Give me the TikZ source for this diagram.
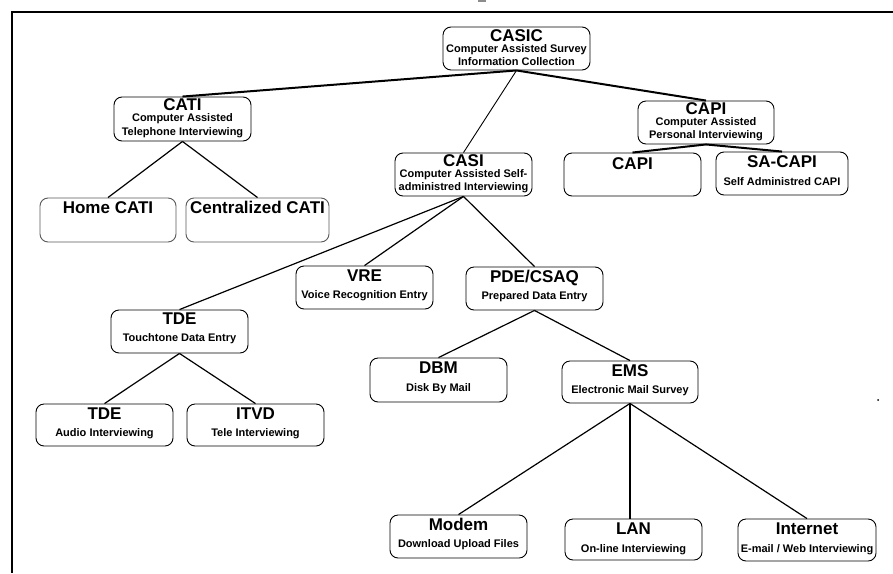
\documentclass[tikz,border=0pt]{standalone}
\usepackage{fontspec}
\setmainfont{Liberation Sans}
\begin{document}
\begin{tikzpicture}[x=1pt,y=-1pt,
  box/.style={draw=black,line width=0.9pt,rounded corners=8pt,fill=white,inner sep=0pt},
  softbox/.style={box,draw=black!65},
  ttl/.style={anchor=base,inner sep=0pt,font=\fontsize{17}{17}\selectfont\bfseries},
  sub/.style={anchor=base,inner sep=0pt,font=\fontsize{11}{11}\selectfont\bfseries},
  link/.style={line width=1.2pt},
  heavylink/.style={line width=2pt},
  thinlink/.style={line width=0.9pt},
  frame/.style={line width=1.8pt}]
\useasboundingbox (0,0) rectangle (893,573);

% outer frame, open to the right and bottom
\draw[frame] (12,573) -- (12,12) -- (893,12);
\draw[black!45,line width=1.4pt] (478,1) -- (486,1);
\fill (878,400) circle (1pt);

% ---- boxes ----
\node[box,minimum width=147pt,minimum height=43pt] (casic) at (516.5,48.5) {};
\node[box,minimum width=137pt,minimum height=44pt] (cati) at (182.5,119) {};
\node[box,minimum width=136pt,minimum height=43pt] (capi) at (706,122.5) {};
\node[box,minimum width=137pt,minimum height=43pt] (casi) at (463.5,174.5) {};
\node[box,minimum width=137pt,minimum height=43pt] (capip) at (632.5,174.5) {};
\node[box,minimum width=132pt,minimum height=43pt] (sacapi) at (782,173.5) {};
\node[softbox,minimum width=136pt,minimum height=44pt] (home) at (108,220) {};
\node[softbox,minimum width=143pt,minimum height=44pt] (central) at (257.5,220) {};
\node[box,minimum width=137pt,minimum height=43pt] (vre) at (364.5,287.5) {};
\node[box,minimum width=137pt,minimum height=43pt] (pde) at (534.5,288.5) {};
\node[box,minimum width=137pt,minimum height=43pt] (tdem) at (179.5,331.5) {};
\node[box,minimum width=137pt,minimum height=44pt] (dbm) at (438.5,380) {};
\node[box,minimum width=136pt,minimum height=42pt] (ems) at (630,382) {};
\node[box,minimum width=137pt,minimum height=42pt] (tdea) at (104.5,425) {};
\node[box,minimum width=137pt,minimum height=42pt] (itvd) at (255.5,425) {};
\node[box,minimum width=137pt,minimum height=43pt] (modem) at (458.5,536.5) {};
\node[box,minimum width=137pt,minimum height=41pt] (lan) at (633.5,539.5) {};
\node[box,minimum width=138pt,minimum height=42pt] (internet) at (807,540) {};

% ---- three-line labels ----
\node[ttl] (casic-t) at ([yshift=-15pt]casic.north) {CASIC};
\node[sub] (casic-s1) at ([yshift=-26pt]casic.north) {Computer Assisted Survey};
\node[sub] (casic-s2) at ([yshift=-39pt]casic.north) {Information Collection};

\node[ttl] (cati-t) at ([yshift=-14pt]cati.north) {CATI};
\node[sub] (cati-s1) at ([yshift=-25pt]cati.north) {Computer Assisted};
\node[sub] (cati-s2) at ([yshift=-39pt]cati.north) {Telephone Interviewing};

\node[ttl] (capi-t) at ([yshift=-14pt]capi.north) {CAPI};
\node[sub] (capi-s1) at ([yshift=-25pt]capi.north) {Computer Assisted};
\node[sub] (capi-s2) at ([yshift=-38pt]capi.north) {Personal Interviewing};

\node[ttl] (casi-t) at ([yshift=-14pt]casi.north) {CASI};
\node[sub] (casi-s1) at ([yshift=-25pt]casi.north) {Computer Assisted Self-};
\node[sub] (casi-s2) at ([yshift=-38pt]casi.north) {administred Interviewing};

% ---- title-only labels ----
\node[ttl] (capip-t) at ([yshift=-17pt]capip.north) {CAPI};
\node[ttl] (home-t) at ([yshift=-16pt]home.north) {Home CATI};
\node[ttl] (central-t) at ([yshift=-16pt]central.north) {Centralized CATI};

% ---- two-line labels ----
\node[ttl] (sacapi-t) at ([yshift=-16pt]sacapi.north) {SA-CAPI};
\node[sub] (sacapi-s) at ([yshift=-34pt]sacapi.north) {Self Administred CAPI};

\node[ttl] (vre-t) at ([yshift=-16pt]vre.north) {VRE};
\node[sub] (vre-s) at ([yshift=-33pt]vre.north) {Voice Recognition Entry};

\node[ttl] (pde-t) at ([yshift=-16pt]pde.north) {PDE/CSAQ};
\node[sub] (pde-s) at ([yshift=-33pt]pde.north) {Prepared Data Entry};

\node[ttl] (tdem-t) at ([yshift=-15pt]tdem.north) {TDE};
\node[sub] (tdem-s) at ([yshift=-32pt]tdem.north) {Touchtone Data Entry};

\node[ttl] (dbm-t) at ([yshift=-16pt]dbm.north) {DBM};
\node[sub] (dbm-s) at ([yshift=-34pt]dbm.north) {Disk By Mail};

\node[ttl] (ems-t) at ([yshift=-16pt]ems.north) {EMS};
\node[sub] (ems-s) at ([yshift=-33pt]ems.north) {Electronic Mail Survey};

\node[ttl] (tdea-t) at ([yshift=-16pt]tdea.north) {TDE};
\node[sub] (tdea-s) at ([yshift=-33pt]tdea.north) {Audio Interviewing};

\node[ttl] (itvd-t) at ([yshift=-16pt]itvd.north) {ITVD};
\node[sub] (itvd-s) at ([yshift=-33pt]itvd.north) {Tele Interviewing};

\node[ttl] (modem-t) at ([yshift=-16pt]modem.north) {Modem};
\node[sub] (modem-s) at ([yshift=-33pt]modem.north) {Download Upload Files};

\node[ttl] (lan-t) at ([yshift=-16pt]lan.north) {LAN};
\node[sub] (lan-s) at ([yshift=-34pt]lan.north) {On-line Interviewing};

\node[ttl] (internet-t) at ([yshift=-16pt]internet.north) {Internet};
\node[sub] (internet-s) at ([yshift=-34pt]internet.north) {E-mail / Web Interviewing};

% ---- connectors ----
\draw[heavylink] (casic.south) -- (cati.north);
\draw[heavylink] (casic.south) -- (capi.north);
\draw[thinlink] (casic.south) -- (casi.north);

\draw[link] (cati.south) -- (home.north);
\draw[link] (cati.south) -- (central.north);

\draw[heavylink] (capi.south) -- (capip.north);
\draw[heavylink] (capi.south) -- (sacapi.north);

\draw[link] (casi.south) -- (tdem.north);
\draw[link] (casi.south) -- (vre.north);
\draw[link] (casi.south) -- (pde.north);

\draw[link] (tdem.south) -- (tdea.north);
\draw[link] (tdem.south) -- (itvd.north);

\draw[link] (pde.south) -- (dbm.north);
\draw[link] (pde.south) -- (ems.north);

\draw[link] (ems.south) -- (modem.north);
\draw[link] (ems.south) -- (ems.south |- lan.north);
\draw[link] (ems.south) -- (internet.north);
\end{tikzpicture}
\end{document}
